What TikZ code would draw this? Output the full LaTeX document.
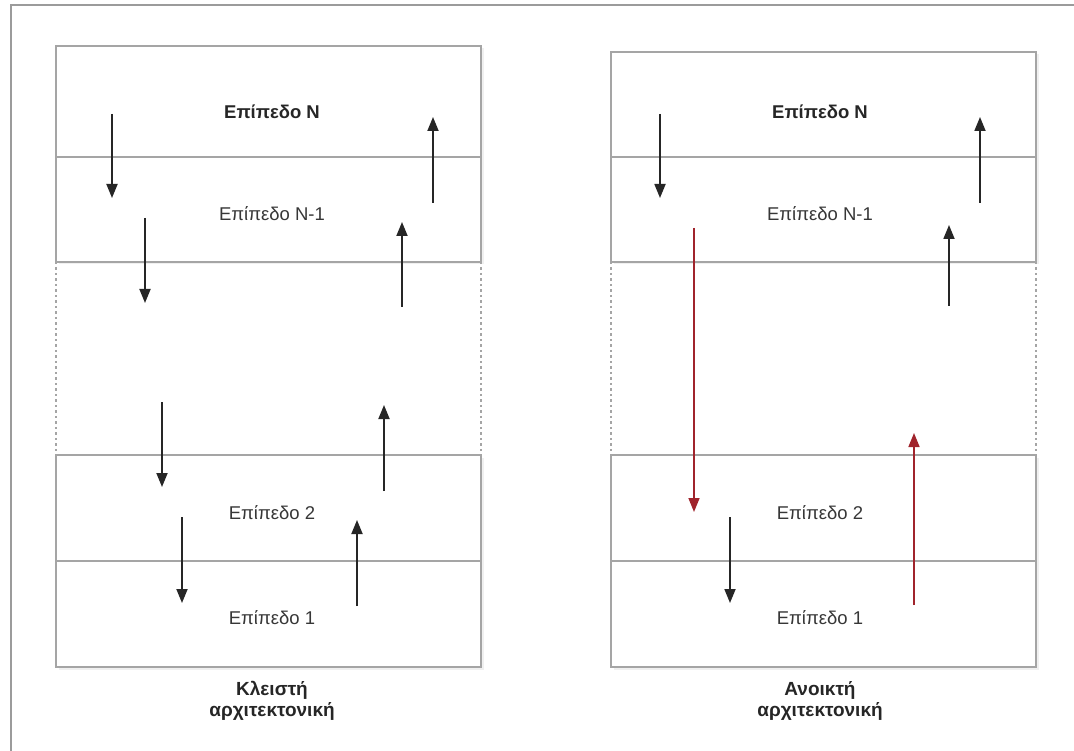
\documentclass[tikz,border=0pt]{standalone}
\usepackage{fontspec}
\setmainfont{Liberation Sans}
\usetikzlibrary{arrows.meta,shadows}

\definecolor{framegray}{RGB}{155,155,155}
\definecolor{boxgray}{RGB}{165,165,165}
\definecolor{flowred}{RGB}{160,36,44}
\definecolor{labelgray}{RGB}{55,55,55}

\begin{document}
\begin{tikzpicture}[x=1pt,y=-1pt,
  layerbox/.style={draw=boxgray, line width=2.2pt, fill=white, inner sep=0pt, outer sep=0pt,
    minimum width=425pt, anchor=north west,
    drop shadow={opacity=0.12, shadow xshift=2.5pt, shadow yshift=-2.5pt}},
  gapside/.style={draw=boxgray, line width=2pt, dash pattern=on 2.2pt off 3.3pt},
  levellabel/.style={text=labelgray, font=\fontsize{18.5}{22}\selectfont},
  toplabel/.style={text=black!85, font=\fontsize{18.5}{22}\selectfont\bfseries},
  caption/.style={text=black!85, align=center, font=\fontsize{19}{21}\selectfont\bfseries},
  flow/.style={draw=black!85, line width=1.8pt, -{Triangle[length=14pt,width=11pt]}},
  openflow/.style={flow, draw=flowred, line width=1.6pt}
]
\useasboundingbox (0,0) rectangle (1074,751);
\clip (0,0) rectangle (1074,751);

% outer frame
\draw[framegray, line width=2pt] (11,770) -- (11,5) -- (1090,5);

% ---------- closed architecture ----------
\node[layerbox, minimum height=111pt] (cN)  at (56,46)  {};
\node[layerbox, minimum height=105pt] (cN1) at (56,157) {};
\node[layerbox, minimum height=106pt] (c2)  at (56,455) {};
\node[layerbox, minimum height=106pt] (c1)  at (56,561) {};
\draw[gapside] (cN1.south west) -- (c2.north west);
\draw[gapside] (cN1.south east) -- (c2.north east);

\node[toplabel]   (tcN)  at (272,112) {Επίπεδο N};
\node[levellabel] (tcN1) at (272,214) {Επίπεδο N-1};
\node[levellabel] (tc2)  at (272,513) {Επίπεδο 2};
\node[levellabel] (tc1)  at (272,618) {Επίπεδο 1};
\node[caption]    (capc) at (272,701) {Κλειστή\\αρχιτεκτονική};

\coordinate (cd1s) at (112,114); \coordinate (cd1e) at (112,198);
\coordinate (cd2s) at (145,218); \coordinate (cd2e) at (145,303);
\coordinate (cd3s) at (162,402); \coordinate (cd3e) at (162,487);
\coordinate (cd4s) at (182,517); \coordinate (cd4e) at (182,603);
\coordinate (cu1s) at (357,606); \coordinate (cu1e) at (357,520);
\coordinate (cu2s) at (384,491); \coordinate (cu2e) at (384,405);
\coordinate (cu3s) at (402,307); \coordinate (cu3e) at (402,222);
\coordinate (cu4s) at (433,203); \coordinate (cu4e) at (433,117);
\foreach \k in {1,...,4} {
  \draw[flow] (cd\k s) -- (cd\k e);
  \draw[flow] (cu\k s) -- (cu\k e);
}

% ---------- open architecture ----------
\node[layerbox, minimum height=105pt] (oN)  at (611,52)  {};
\node[layerbox, minimum height=105pt] (oN1) at (611,157) {};
\node[layerbox, minimum height=106pt] (o2)  at (611,455) {};
\node[layerbox, minimum height=106pt] (o1)  at (611,561) {};
\draw[gapside] (oN1.south west) -- (o2.north west);
\draw[gapside] (oN1.south east) -- (o2.north east);

\node[toplabel]   (toN)  at (820,112) {Επίπεδο N};
\node[levellabel] (toN1) at (820,214) {Επίπεδο N-1};
\node[levellabel] (to2)  at (820,513) {Επίπεδο 2};
\node[levellabel] (to1)  at (820,618) {Επίπεδο 1};
\node[caption]    (capo) at (820,701) {Ανοικτή\\αρχιτεκτονική};

\coordinate (od1s) at (660,114); \coordinate (od1e) at (660,198);
\coordinate (od2s) at (730,517); \coordinate (od2e) at (730,603);
\coordinate (ou1s) at (949,306); \coordinate (ou1e) at (949,225);
\coordinate (ou2s) at (980,203); \coordinate (ou2e) at (980,117);
\coordinate (ors)  at (694,228); \coordinate (ore)  at (694,512);
\coordinate (oqs)  at (914,605); \coordinate (oqe)  at (914,433);
\draw[flow] (od1s) -- (od1e);
\draw[flow] (od2s) -- (od2e);
\draw[flow] (ou1s) -- (ou1e);
\draw[flow] (ou2s) -- (ou2e);
\draw[openflow] (ors) -- (ore);
\draw[openflow] (oqs) -- (oqe);
\end{tikzpicture}
\end{document}
